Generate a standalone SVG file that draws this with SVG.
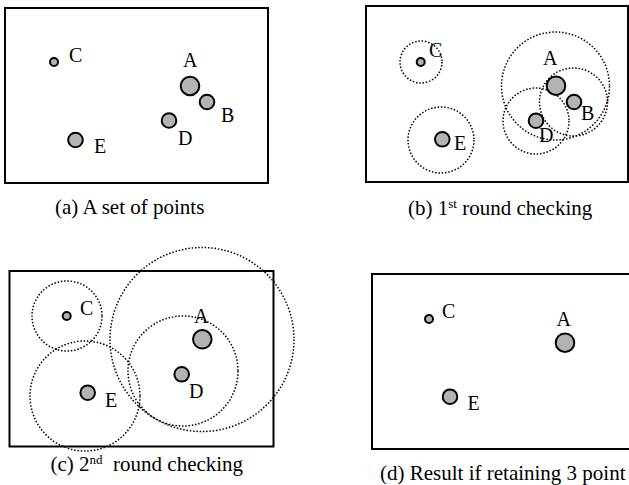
<svg xmlns="http://www.w3.org/2000/svg" width="629" height="485" viewBox="0 0 629 485">
<style>
.frame{fill:none;stroke:#000;stroke-width:2}
.pt{fill:#b3b3b3;stroke:#000;stroke-width:2}
.rng{fill:none;stroke:#000;stroke-width:1.5;stroke-dasharray:1.5 1.8}
.lbl{font-family:'Liberation Serif','Times New Roman',Times,'DejaVu Serif',serif;font-size:20px;fill:#000}
.cap{font-family:'Liberation Serif','Times New Roman',Times,'DejaVu Serif',serif;font-size:21px;fill:#000}
.sup{font-size:13px}
</style>
<rect width="629" height="485" fill="#fff"/>
<g id="panel-a">
<rect class="frame" x="5" y="8" width="263" height="175"/>
<g id="a-C"><circle class="pt" cx="54" cy="62" r="4"/><text class="lbl" x="69" y="62">C</text></g>
<g id="a-A"><circle class="pt" cx="190" cy="86" r="9.3"/><text class="lbl" x="183" y="67">A</text></g>
<g id="a-B"><circle class="pt" cx="207" cy="102" r="7.3"/><text class="lbl" x="221" y="122">B</text></g>
<g id="a-D"><circle class="pt" cx="169" cy="120.5" r="7.3"/><text class="lbl" x="178" y="145">D</text></g>
<g id="a-E"><circle class="pt" cx="75.5" cy="140" r="7.3"/><text class="lbl" x="94" y="153">E</text></g>
<text class="cap" x="55" y="214">(a) A set of points</text>
</g>
<g id="panel-b">
<rect class="frame" x="366" y="6" width="262" height="176"/>
<g id="b-ranges">
<circle class="rng" cx="421" cy="62" r="21"/>
<circle class="rng" cx="441" cy="140" r="33"/>
<circle class="rng" cx="555.5" cy="86" r="54"/>
<circle class="rng" cx="573.5" cy="102" r="34"/>
<circle class="rng" cx="536" cy="121" r="33"/>
</g>
<g id="b-C"><circle class="pt" cx="420.7" cy="62" r="4"/><text class="lbl" x="429" y="57">C</text></g>
<g id="b-A"><circle class="pt" cx="556" cy="85.7" r="9.3"/><text class="lbl" x="543" y="65">A</text></g>
<g id="b-B"><circle class="pt" cx="574" cy="102" r="7.3"/><text class="lbl" x="581" y="120">B</text></g>
<g id="b-D"><circle class="pt" cx="536" cy="120.7" r="7.3"/><text class="lbl" x="539" y="142">D</text></g>
<g id="b-E"><circle class="pt" cx="442.3" cy="139.3" r="7.3"/><text class="lbl" x="454" y="150">E</text></g>
<text class="cap" x="408" y="215">(b) 1<tspan class="sup" dy="-7">st</tspan><tspan dy="7"> round checking</tspan></text>
</g>
<g id="panel-c">
<rect class="frame" x="9.5" y="271" width="264" height="175.5"/>
<g id="c-ranges">
<circle class="rng" cx="67" cy="316" r="35"/>
<circle class="rng" cx="85" cy="396" r="55"/>
<circle class="rng" cx="183" cy="371" r="55"/>
<circle class="rng" cx="202" cy="339.5" r="92"/>
</g>
<g id="c-C"><circle class="pt" cx="66.7" cy="316" r="4"/><text class="lbl" x="80" y="315">C</text></g>
<g id="c-A"><circle class="pt" cx="202.3" cy="339.3" r="9.3"/><text class="lbl" x="194" y="323">A</text></g>
<g id="c-D"><circle class="pt" cx="181.7" cy="374.3" r="7.3"/><text class="lbl" x="189" y="398">D</text></g>
<g id="c-E"><circle class="pt" cx="87.7" cy="392.7" r="7.3"/><text class="lbl" x="105" y="407">E</text></g>
<text class="cap" x="50.5" y="471">(c) 2<tspan class="sup" dy="-7">nd</tspan><tspan dy="7">&#160; round checking</tspan></text>
</g>
<g id="panel-d">
<rect class="frame" x="372" y="274" width="270" height="175"/>
<g id="d-C"><circle class="pt" cx="429" cy="319" r="4"/><text class="lbl" x="442" y="318">C</text></g>
<g id="d-A"><circle class="pt" cx="565" cy="342.7" r="9.3"/><text class="lbl" x="556.5" y="326">A</text></g>
<g id="d-E"><circle class="pt" cx="450" cy="396.7" r="7.3"/><text class="lbl" x="467.5" y="410">E</text></g>
<text class="cap" x="380" y="480">(d) Result if retaining 3 point</text>
</g>
</svg>
